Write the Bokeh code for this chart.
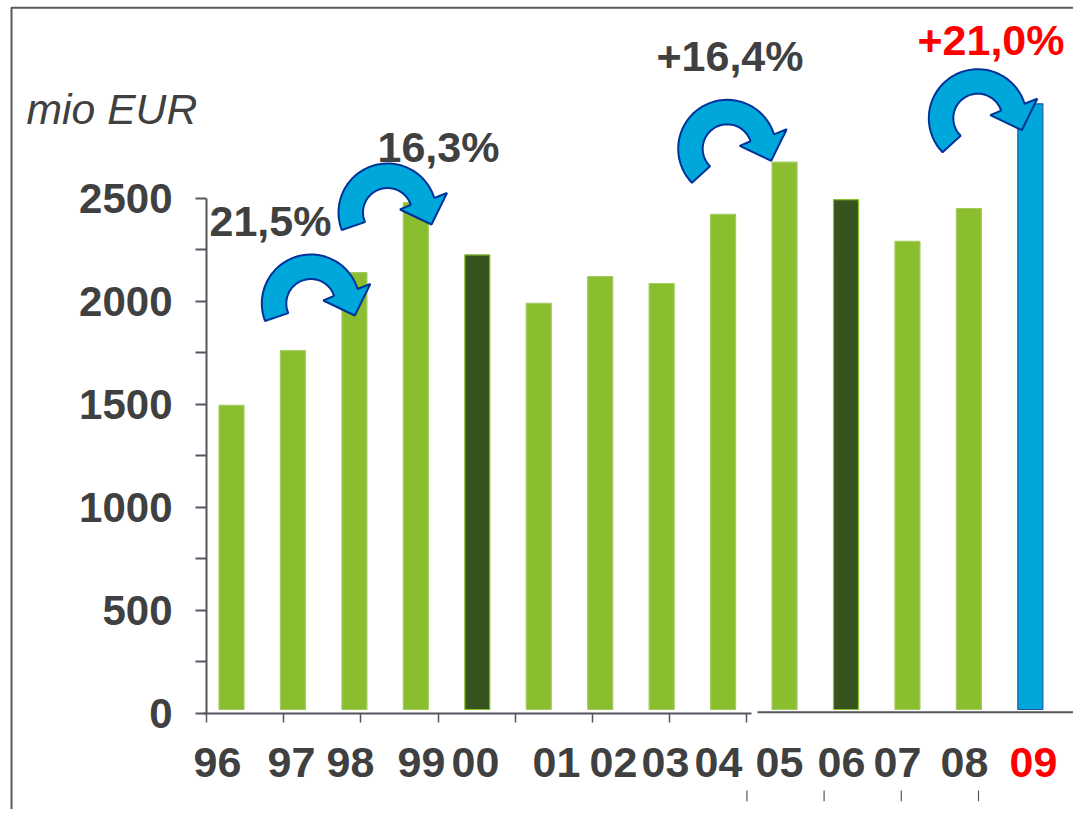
import math
from bokeh.plotting import figure
from bokeh.models import Range1d, LinearAxis, FixedTicker
from bokeh.core.properties import value
from bokeh.embed import file_html
from bokeh.resources import INLINE

years = ["96", "97", "98", "99", "00", "01", "02", "03", "04", "05", "06", "07", "08", "09"]
values = [1494, 1760, 2139, 2479, 2225, 1989, 2120, 2086, 2421, 2675, 2493, 2290, 2450, 2958]
bar_fill = ["#8BBE2F"] * 14
bar_fill[4] = bar_fill[10] = "#37541F"
bar_fill[13] = "#00A7DB"
bar_line = ["#A3CB62"] * 14
bar_line[4] = bar_line[10] = "#8DBF2F"
bar_line[13] = "#2255A8"
year_colors = ["#404040"] * 13 + ["#FF0000"]
year_label_px = [217, 291, 350, 421, 475, 556, 613, 665, 718, 779, 841, 897, 964, 1033]
growth_text = ["21,5%", "16,3%", "+16,4%", "+21,0%"]
growth_color = ["#404040", "#404040", "#404040", "#FF0000"]
growth_px = [(270, 235), (438, 161), (729.5, 70.7), (990.5, 54)]
y_ticks = [0, 500, 1000, 1500, 2000, 2500]
y_minor = [250, 750, 1250, 1750, 2250]
BAR_BASE = 18
TEXT_FIX = 15  # svg text sits this many px under its requested baseline

# screen placement helpers (picture pixels to data units)
X0, XS, Y0, YS = 231.0, 61.45, 712.7, 0.206
TX0, TXS = 206.0, 77.2
dx = lambda px: (px - X0) / XS
dy = lambda py: (Y0 - py) / YS
tx = lambda px: (px - TX0) / TXS

W, H = 1073, 809
p = figure(width=W, height=H, output_backend="svg", toolbar_location=None,
           x_range=Range1d(dx(0), dx(W)), y_range=Range1d(dy(H), dy(0)),
           x_axis_type=None, y_axis_type=None, min_border=0, outline_line_color=None)
p.grid.visible = False
p.background_fill_color = "white"
p.border_fill_color = "white"
p.extra_x_ranges["ticks"] = Range1d(tx(0), tx(W))

AXC = "#55555F"
yax = LinearAxis(fixed_location=dx(206),
                 ticker=FixedTicker(ticks=y_ticks, minor_ticks=y_minor),
                 bounds=(0, 2500), axis_line_color=AXC, axis_line_width=2,
                 major_tick_line_color=AXC, major_tick_line_width=2,
                 minor_tick_line_color=AXC, minor_tick_line_width=2,
                 major_tick_in=0, major_tick_out=11, minor_tick_in=0, minor_tick_out=11,
                 major_label_standoff=23, major_label_text_color="#404040",
                 major_label_text_font="Liberation Sans", major_label_text_font_style="bold",
                 major_label_text_font_size="42px")
p.add_layout(yax, "left")

xax = LinearAxis(fixed_location=0, x_range_name="ticks",
                 ticker=FixedTicker(ticks=list(range(8)), minor_ticks=[]),
                 bounds=(tx(203), tx(751)), axis_line_color=AXC, axis_line_width=2,
                 major_tick_line_color=AXC, major_tick_line_width=1.5,
                 major_tick_in=0, major_tick_out=9,
                 major_label_text_color=None, major_label_text_font_size="1px")
p.add_layout(xax, "below")

# right-hand part of the broken axis and its displaced ticks
p.segment([tx(757)], [dy(711.7)], [tx(W)], [dy(711.7)], x_range_name="ticks",
          line_color=AXC, line_width=2)
k2 = [7, 8, 9, 10]
p.segment(k2, [dy(790)] * 4, k2, [dy(800.7)] * 4, x_range_name="ticks",
          line_color=AXC, line_width=1.2)

# frame
p.line([dx(W), dx(11), dx(11)], [dy(7.3), dy(7.3), dy(H)], line_color="#595959", line_width=2)

p.vbar(x=list(range(14)), top=values, bottom=BAR_BASE, width=25 / XS,
       fill_color=bar_fill, line_color=bar_line, line_width=1.2)


def arrow(cx, cy, a_out, a_in):
    """Curved block arrow around picture point (cx, cy)."""
    xs, ys = [], []
    n = 40
    for i in range(n + 1):              # outer arc, clockwise from the tail
        a = math.radians(a_out - (a_out - 17.2) * i / n)
        xs.append(cx + 49 * math.cos(a)); ys.append(cy - 49 * math.sin(a))
    for hx, hy in [(59.5, -19.5), (44, 12), (12.5, -3)]:
        xs.append(cx + hx); ys.append(cy + hy)
    for i in range(n + 1):              # inner arc back to the tail
        a = math.radians(18 + (a_in - 18) * i / n)
        xs.append(cx + 24.5 * math.cos(a)); ys.append(cy - 24.5 * math.sin(a))
    p.patch([dx(v) for v in xs], [dy(v) for v in ys], fill_color="#00A7DB",
            line_color="#003399", line_width=2)


arrow(310.3, 303, 200.9, 203)
arrow(387, 212, 200.9, 203)
arrow(726.7, 148.3, 224, 225.5)
arrow(977.3, 117.7, 224, 225.5)

BOLD = dict(text_font=value("Liberation Sans"), text_font_style="bold", text_font_size="43px")
p.text(x=[dx(v) for v in year_label_px], y=[dy(776.7 - TEXT_FIX)] * 14, text=years, text_color=year_colors,
       text_align="center", text_baseline="alphabetic", **BOLD)
p.text(x=[dx(a) for a, _ in growth_px], y=[dy(b - TEXT_FIX) for _, b in growth_px], text=growth_text,
       text_color=growth_color, text_align="center", text_baseline="alphabetic", **BOLD)
p.text(x=[dx(26)], y=[dy(123 - TEXT_FIX)], text=["mio EUR"], text_color="#404040",
       text_font=value("Liberation Sans"), text_font_style="italic", text_font_size="42.7px",
       text_align="left", text_baseline="alphabetic")

open("out.html", "w").write(file_html(p, INLINE))
